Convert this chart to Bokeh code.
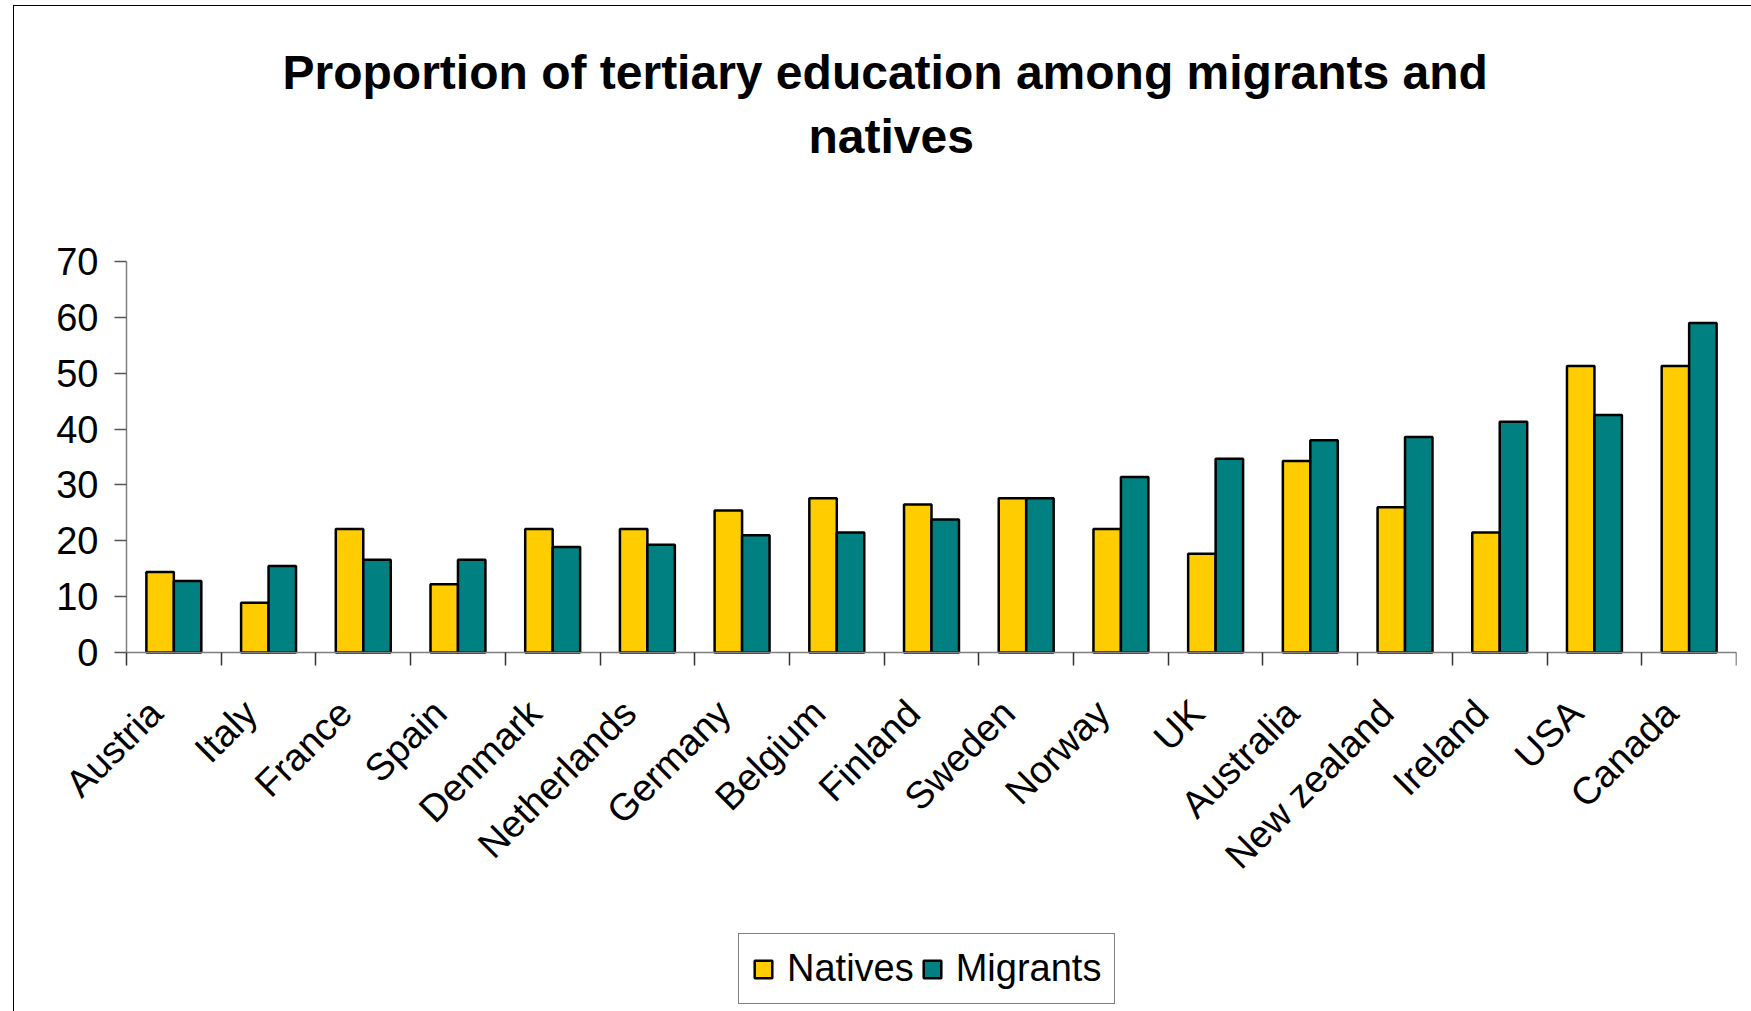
import numpy as np
from bokeh.plotting import figure
from bokeh.models import (ColumnDataSource, Range1d, LinearAxis, FixedTicker,
                          CustomJSTickFormatter, Legend, Title, InlineStyleSheet)
from bokeh.transform import dodge
from bokeh.embed import file_html
from bokeh.resources import INLINE

countries = ["Austria", "Italy", "France", "Spain", "Denmark", "Netherlands",
             "Germany", "Belgium", "Finland", "Sweden", "Norway", "UK",
             "Australia", "New zealand", "Ireland", "USA", "Canada"]
natives = [14.4, 8.9, 22.1, 12.2, 22.1, 22.1, 25.4, 27.6, 26.5, 27.6, 22.1,
           17.7, 34.3, 26.0, 21.5, 51.3, 51.3]
migrants = [12.8, 15.5, 16.6, 16.6, 18.9, 19.3, 21.0, 21.5, 23.8, 27.6, 31.4,
            34.7, 38.0, 38.6, 41.3, 42.5, 59.0]
y_ticks = [0, 10, 20, 30, 40, 50, 60, 70]
title_lines = ["Proportion of tertiary education among migrants and", "natives"]

FONT = "Liberation Sans"
n = len(countries)
pos = np.arange(n) + 0.5

src = ColumnDataSource(dict(pos=pos, natives=natives, migrants=migrants, country=countries))

# The frame is wider/taller than the value area so that the axes (drawn at
# x = 0 and y = 0) and the legend are not clipped; axis lines are bounded.
Y_AXIS_MAX = 70
p = figure(width=1751, height=1011, output_backend="svg", toolbar_location=None,
           x_range=Range1d(-1.1826, n), y_range=Range1d(-64.27, 80.92),
           x_axis_type=None, y_axis_type=None,
           min_border_left=14, min_border_right=15, min_border_top=200,
           min_border_bottom=0)
p.title.text = ""
p.outline_line_color = None
p.xgrid.visible = False
p.ygrid.visible = False
p.background_fill_color = "white"
p.border_fill_color = "white"
p.stylesheets = [InlineStyleSheet(css="""
:host { position: relative; overflow: hidden; }
:host::after { content: ""; position: absolute; left: 13px; top: 5px; right: -20px;
  bottom: -20px; border: 1.5px solid black; pointer-events: none; }
""")]

bw = 0.29
r1 = p.vbar(x=dodge("pos", -bw / 2, range=p.x_range), top="natives", width=bw, bottom=0,
            source=src, fill_color="#FFCC00", line_color="black", line_width=2.5)
r2 = p.vbar(x=dodge("pos", bw / 2, range=p.x_range), top="migrants", width=bw, bottom=0,
            source=src, fill_color="#008080", line_color="black", line_width=2.5)

# y axis at x = 0
yaxis = LinearAxis(ticker=FixedTicker(ticks=y_ticks, minor_ticks=[]),
                   bounds=(0, Y_AXIS_MAX), fixed_location=0)
yaxis.axis_line_color = "#808080"
yaxis.axis_line_width = 1.5
yaxis.major_tick_line_color = "#555555"
yaxis.major_tick_line_width = 1.5
yaxis.major_tick_out = 12
yaxis.major_tick_in = 0
yaxis.minor_tick_line_color = None
yaxis.major_label_text_font = FONT
yaxis.major_label_text_font_size = "38px"
yaxis.major_label_text_color = "black"
yaxis.major_label_standoff = 16
p.add_layout(yaxis, "left")

# x axis at y = 0: tick marks between categories, labels near category centres
label_pos = list(pos - 0.19)
xaxis = LinearAxis(ticker=FixedTicker(ticks=label_pos, minor_ticks=list(np.arange(n + 1))),
                   bounds=(0, n), fixed_location=0)
xaxis.formatter = CustomJSTickFormatter(args=dict(names=countries), code="""
const i = Math.floor(tick);
return (i >= 0 && i < names.length) ? names[i] : '';
""")
xaxis.axis_line_color = "#808080"
xaxis.axis_line_width = 1.5
xaxis.major_tick_line_color = None
xaxis.major_tick_out = 0
xaxis.major_tick_in = 0
xaxis.minor_tick_line_color = "#333333"
xaxis.minor_tick_line_width = 1.5
xaxis.minor_tick_out = 13
xaxis.minor_tick_in = 0
xaxis.major_label_orientation = np.pi / 4
xaxis.major_label_text_font = FONT
xaxis.major_label_text_font_size = "38px"
xaxis.major_label_text_color = "black"
xaxis.major_label_standoff = 41
p.add_layout(xaxis, "below")

legend = Legend(items=[("Natives", [r1]), ("Migrants", [r2])], orientation="horizontal",
                location=(724, 7), label_text_font=FONT, label_text_font_size="38px",
                label_text_color="black",
                glyph_width=22, glyph_height=22, label_standoff=13, spacing=7,
                padding=13, margin=0, border_line_color="black", border_line_width=1.2,
                background_fill_color="white")
p.add_layout(legend, "center")

# title (two lines, stacked upward from the frame, above a blank spacer)
spacer = Title(text=" ", standoff=29, text_font=FONT, text_font_size="1px")
t2 = Title(text=title_lines[1], align="left", offset=794, standoff=12,
           text_font=FONT, text_font_size="48px", text_font_style="bold", text_color="black")
t1 = Title(text=title_lines[0], align="left", offset=268, standoff=6,
           text_font=FONT, text_font_size="48px", text_font_style="bold", text_color="black")
p.add_layout(spacer, "above")
p.add_layout(t2, "above")
p.add_layout(t1, "above")

open("out.html", "w").write(file_html(p, INLINE))
